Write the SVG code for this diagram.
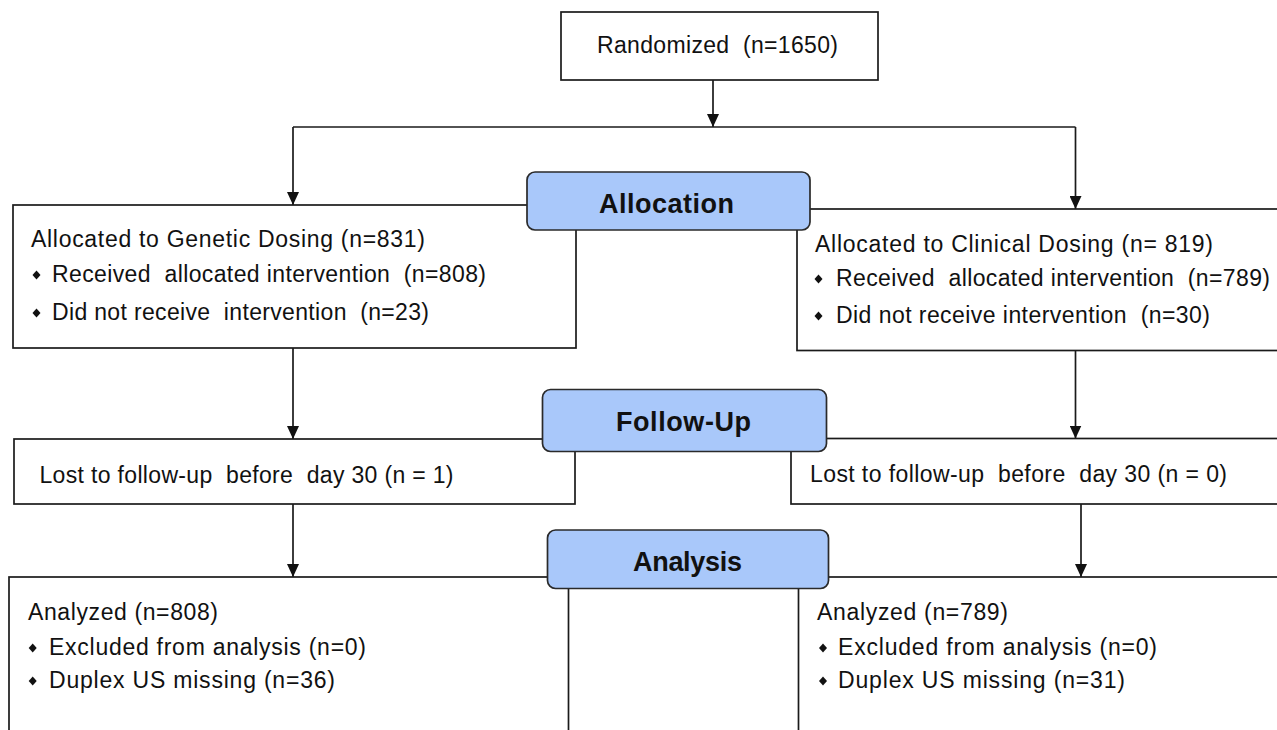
<svg xmlns="http://www.w3.org/2000/svg" xmlns:xlink="http://www.w3.org/1999/xlink" width="1277" height="730" viewBox="0 0 1277 730">
<defs>
<style>
.box{fill:#ffffff;stroke:#1a1a1a;stroke-width:1.7}
.lab{fill:#a9c8fa;stroke:#2a2a2a;stroke-width:1.7}
.txt{font-family:"Liberation Sans",Arial,sans-serif;font-size:23px;fill:#111;white-space:pre}
.bold{font-family:"Liberation Sans",Arial,sans-serif;font-size:27px;font-weight:bold;fill:#111}
.conn{fill:none;stroke:#1a1a1a;stroke-width:1.7}
</style>
<marker id="arr" markerUnits="userSpaceOnUse" markerWidth="13" markerHeight="12" refX="13" refY="6" orient="auto">
<path d="M0,0 L13,6 L0,12 Z" fill="#111"/>
</marker>
<path id="bul" d="M0,-4.5 L4,0 L0,4.5 L-4,0 Z" fill="#111"/>
</defs>
<rect width="1277" height="730" fill="#ffffff"/>

<g id="connectors">
<path class="conn" d="M713,80 L713,127" marker-end="url(#arr)"/>
<path class="conn" d="M293,127 L1075.5,127"/>
<path class="conn" d="M293,127 L293,205" marker-end="url(#arr)"/>
<path class="conn" d="M1075.5,127 L1075.5,209" marker-end="url(#arr)"/>
<path class="conn" d="M293,348 L293,439" marker-end="url(#arr)"/>
<path class="conn" d="M1075.5,350.5 L1075.5,438.5" marker-end="url(#arr)"/>
<path class="conn" d="M293,504 L293,577" marker-end="url(#arr)"/>
<path class="conn" d="M1081,504 L1081,577" marker-end="url(#arr)"/>
</g>

<g id="randomized">
<rect class="box" x="561" y="12" width="317" height="68"/>
<text class="txt" x="597" y="52.5" textLength="241">Randomized  (n=1650)</text>
</g>

<g id="alloc-genetic">
<rect class="box" x="13" y="205" width="563" height="143"/>
<text class="txt" x="31" y="247" textLength="394">Allocated to Genetic Dosing (n=831)</text>
<use xlink:href="#bul" x="36.5" y="275"/>
<text class="txt" x="52" y="282" textLength="434">Received  allocated intervention  (n=808)</text>
<use xlink:href="#bul" x="36.5" y="313"/>
<text class="txt" x="52" y="320" textLength="377">Did not receive  intervention  (n=23)</text>
</g>

<g id="alloc-clinical">
<rect class="box" x="797" y="209" width="500" height="141.5"/>
<text class="txt" x="815" y="251.5" textLength="398">Allocated to Clinical Dosing (n= 819)</text>
<use xlink:href="#bul" x="818.5" y="279"/>
<text class="txt" x="836" y="286" textLength="434">Received  allocated intervention  (n=789)</text>
<use xlink:href="#bul" x="818.5" y="316"/>
<text class="txt" x="836" y="323" textLength="374">Did not receive intervention  (n=30)</text>
</g>

<g id="followup-genetic">
<rect class="box" x="14" y="439" width="561" height="65"/>
<text class="txt" x="39.5" y="483" textLength="414">Lost to follow-up  before  day 30 (n = 1)</text>
</g>

<g id="followup-clinical">
<rect class="box" x="791" y="438.5" width="506" height="65.5"/>
<text class="txt" x="810" y="482" textLength="417">Lost to follow-up  before  day 30 (n = 0)</text>
</g>

<g id="analysis-genetic">
<rect class="box" x="9" y="577" width="559.5" height="170"/>
<text class="txt" x="28" y="620" textLength="190">Analyzed (n=808)</text>
<use xlink:href="#bul" x="32.7" y="648"/>
<text class="txt" x="49" y="655" textLength="317">Excluded from analysis (n=0)</text>
<use xlink:href="#bul" x="32.7" y="681"/>
<text class="txt" x="49" y="688" textLength="286">Duplex US missing (n=36)</text>
</g>

<g id="analysis-clinical">
<rect class="box" x="798.5" y="577" width="500" height="170"/>
<text class="txt" x="817" y="620" textLength="191">Analyzed (n=789)</text>
<use xlink:href="#bul" x="823" y="648"/>
<text class="txt" x="838" y="655" textLength="319">Excluded from analysis (n=0)</text>
<use xlink:href="#bul" x="823" y="681"/>
<text class="txt" x="838" y="688" textLength="287">Duplex US missing (n=31)</text>
</g>

<g id="label-allocation">
<rect class="lab" x="527" y="172" width="283" height="58" rx="8"/>
<text class="bold" x="599" y="213.3" textLength="135">Allocation</text>
</g>

<g id="label-followup">
<rect class="lab" x="542.5" y="389.5" width="284" height="62" rx="8"/>
<text class="bold" x="616" y="430.7" textLength="135">Follow-Up</text>
</g>

<g id="label-analysis">
<rect class="lab" x="547.5" y="530" width="281" height="58.5" rx="8"/>
<text class="bold" x="633" y="570.7" textLength="109">Analysis</text>
</g>
</svg>
